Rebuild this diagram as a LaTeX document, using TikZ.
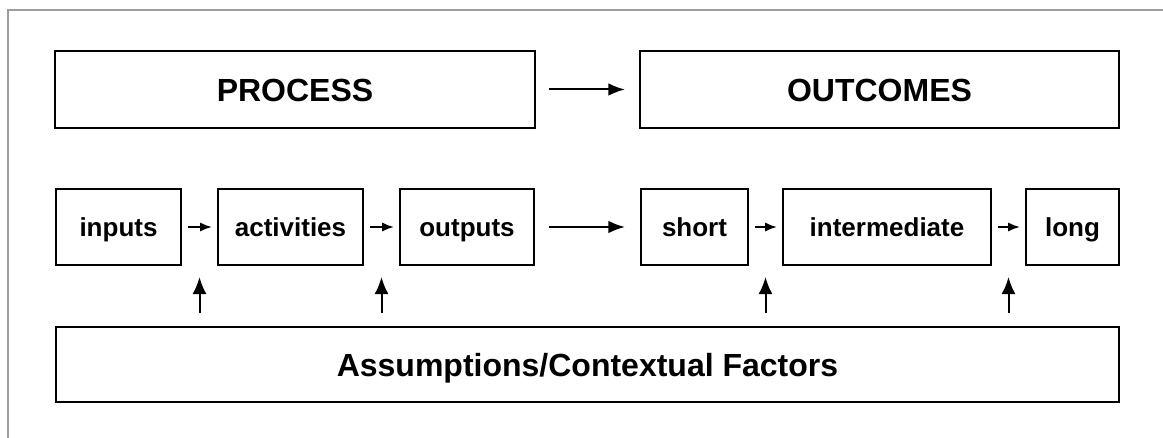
\documentclass[tikz,border=0pt]{standalone}
\usepackage{fontspec}
\setmainfont{Liberation Sans}
\usetikzlibrary{positioning,calc,arrows.meta}

\begin{document}
\begin{tikzpicture}[
x=0.75pt,
y=-0.75pt,
stage/.style={
  draw,
  line width=1.5pt,
  outer sep=0pt,
  minimum height=57.75pt,
  text height=17.5pt,
  text depth=0pt,
  font=\fontsize{24}{28}\selectfont\bfseries
  },
part/.style={
  draw,
  line width=1.5pt,
  outer sep=0pt,
  minimum height=57pt,
  text height=17.5pt,
  text depth=3.9pt,
  font=\fontsize{19.5}{23}\selectfont\bfseries
  },
link/.style={
  ->,
  line width=1.5pt,
  >={Latex[length=12.5pt,width=9.5pt]}
  },
step link/.style={
  ->,
  line width=1.5pt,
  shorten <=5.25pt,
  shorten >=4.5pt,
  >={Latex[length=9pt,width=7pt]}
  }
]
\useasboundingbox (0,0) rectangle (1163,438);
% frame
\draw[line width=1.5pt, black!38] (1163,10) -- (8,10) -- (8,438);

\node[stage, minimum width=360pt] (process) at (295,89.5) {PROCESS};
\node[stage, minimum width=359.25pt, right=78.75pt of process] (outcomes) {OUTCOMES};

\node[part, minimum width=93.75pt, anchor=west] (inputs) at (56,227) {inputs};
\node[part, minimum width=108.75pt, right=27.75pt of inputs] (activities) {activities};
\node[part, minimum width=100.5pt, right=27.75pt of activities] (outputs) {outputs};
\node[part, minimum width=80.25pt, right=80.25pt of outputs] (short) {short};
\node[part, minimum width=156pt, right=26.25pt of short] (intermediate) {intermediate};
\node[part, minimum width=69.75pt, right=26.25pt of intermediate] (long) {long};

\node[stage, minimum width=797.25pt, minimum height=56.25pt] (assume) at (587.5,364.5) {Assumptions/Contextual Factors};

\draw[link, shorten <=10.5pt, shorten >=11.25pt] (process) -- (outcomes);
\draw[link, shorten <=11.25pt, shorten >=12pt] (outputs) -- (short);

\foreach \a/\b [count=\i] in {inputs/activities, activities/outputs, short/intermediate, intermediate/long}
{
  \draw[step link] (\a.east) -- (\b.west);
  \coordinate (gap\i) at ($(\a.east)!0.5!(\b.west)$);
  \draw[link, >={Latex[length=12.75pt,width=10.5pt]}, shorten <=10.5pt, shorten >=9pt] (assume.north -| gap\i) -- (gap\i |- \a.south);
}

\end{tikzpicture}
\end{document}
